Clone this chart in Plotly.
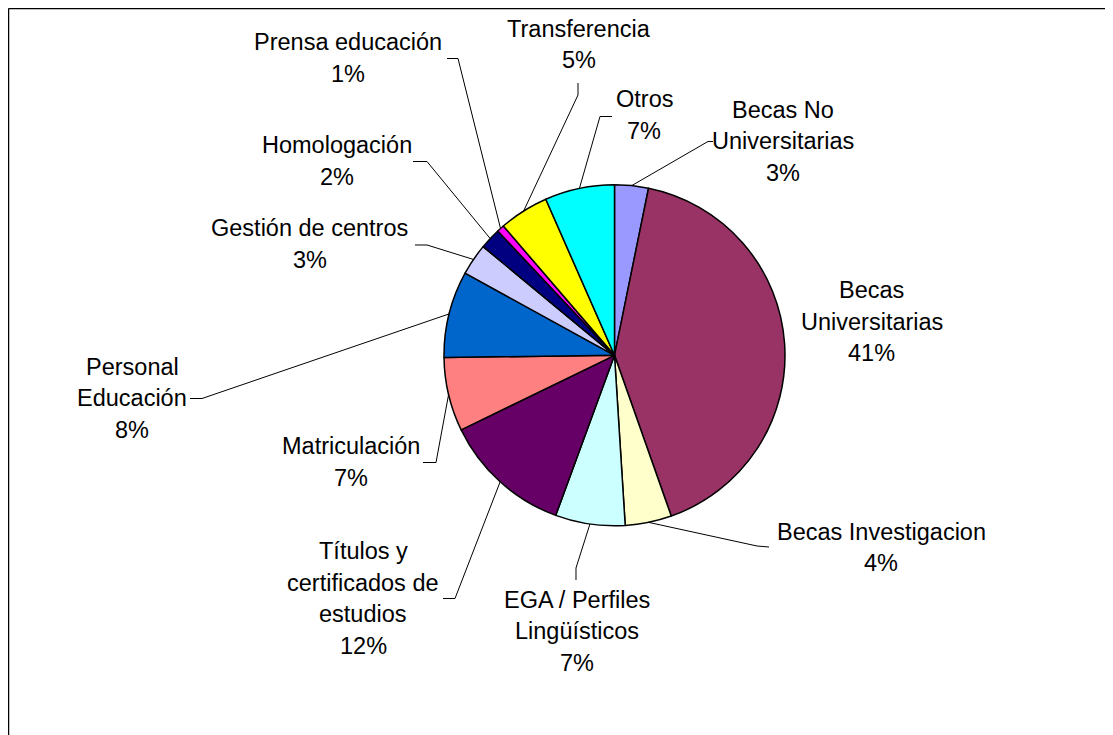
import math
import plotly.graph_objects as go

# page body has an 8px margin, so the figure is offset by 8px
OFF = 8
W, H = 1113 - OFF, 735 - OFF

categories = ["Becas No Universitarias", "Becas Universitarias", "Becas Investigacion",
              "EGA / Perfiles Lingüísticos", "Títulos y certificados de estudios",
              "Matriculación", "Personal Educación", "Gestión de centros",
              "Homologación", "Prensa educación", "Transferencia", "Otros"]
values = [3.2, 41.4, 4.4, 6.6, 12.2, 7.0, 8.2, 3.0, 2.0, 0.7, 4.7, 6.6]
colors = ["#9999FF", "#993366", "#FFFFCC", "#CCFFFF", "#660066", "#FF8080",
          "#0066CC", "#CCCCFF", "#000080", "#FF00FF", "#FFFF00", "#00FFFF"]
label_lines = [["Becas No", "Universitarias"], ["Becas", "Universitarias"],
               ["Becas Investigacion"], ["EGA / Perfiles", "Lingüísticos"],
               ["Títulos y", "certificados de", "estudios"], ["Matriculación"],
               ["Personal", "Educación"], ["Gestión de centros"], ["Homologación"],
               ["Prensa educación"], ["Transferencia"], ["Otros"]]

# layout (screen pixels): pie centre/radius, label block centres, leader elbows
cx, cy, r = 614.5, 355.3, 170.5
label_pos = [(783, 141.5), (871.5, 321.5), (881, 547.5), (577, 631), (363, 598.5),
             (350.5, 462), (132, 398), (309.5, 244), (337, 161), (347.5, 58),
             (579, 44.5), (644, 115)]
elbows = [[(713, 141.5), (708, 141.5)], None, [(769, 547), (757, 546)],
          [(576, 580), (576, 568)], [(443, 598.5), (455, 598.5)],
          [(423, 462.5), (436, 462.5)], [(190, 398.5), (202, 398.5)],
          [(415, 245), (427, 245)], [(413, 161.5), (427, 161.5)],
          [(447, 58.5), (458, 58.5)], [(578, 83), (578, 95)],
          [(612, 116.5), (600, 116.5)]]
line_gap = 31.5
FONT = "Liberation Sans, Arial, sans-serif"


def px(x):
    return (x - OFF) / W


def py(y):
    return 1 - (y - OFF) / H


fig = go.Figure()
fig.add_trace(go.Pie(
    labels=categories, values=values, sort=False, direction="clockwise", rotation=0,
    marker=dict(colors=colors, line=dict(color="black", width=1.5)),
    textinfo="none", hoverinfo="label+percent", showlegend=False,
    domain=dict(x=[px(cx - r), px(cx + r)], y=[py(cy + r), py(cy - r)]),
))

total = sum(values)
annotations = []
shapes = []
cum = 0.0
for i, v in enumerate(values):
    pct = int(v / total * 100 + 0.5)
    lines = label_lines[i] + ["%d%%" % pct]
    lx, ly = label_pos[i]
    n = len(lines)
    for k, t in enumerate(lines):
        yy = ly + (k - (n - 1) / 2) * line_gap
        annotations.append(dict(x=px(lx), y=py(yy), xref="paper", yref="paper",
                                text=t, showarrow=False, xanchor="center", yanchor="middle",
                                font=dict(family=FONT, size=23.5, color="black")))
    mid = (cum + v / 2) / total * 2 * math.pi
    cum += v
    if elbows[i]:
        ax = cx + r * math.sin(mid)
        ay = cy - r * math.cos(mid)
        pts = elbows[i] + [(ax, ay)]
        path = "M " + " L ".join("%f,%f" % (px(a), py(b)) for a, b in pts)
        shapes.append(dict(type="path", path=path, xref="paper", yref="paper",
                           line=dict(color="black", width=1)))

# chart frame: only the left and top edges show in the picture
shapes.append(dict(type="line", xref="paper", yref="paper",
                   x0=px(8.5), y0=py(8.5), x1=1.0, y1=py(8.5),
                   line=dict(color="black", width=1.5)))
shapes.append(dict(type="line", xref="paper", yref="paper",
                   x0=px(8.5), y0=py(8.5), x1=px(8.5), y1=0.0,
                   line=dict(color="black", width=1.5)))

fig.update_layout(
    width=W, height=H,
    margin=dict(l=0, r=0, t=0, b=0),
    paper_bgcolor="white", plot_bgcolor="white",
    annotations=annotations, shapes=shapes,
    font=dict(family=FONT),
)

fig.write_html("out.html")
